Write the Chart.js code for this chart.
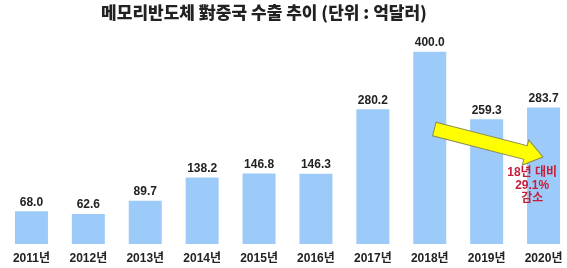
<!DOCTYPE html>
<html>
<head>
<meta charset="utf-8">
<script src="https://cdn.jsdelivr.net/npm/chart.js@4"></script>
<style>
    html, body { margin: 0; padding: 0; background: #fff; overflow: hidden; }
    #wrap { position: relative; width: 575px; height: 268px; }
</style>
</head>
<body>
<div id="wrap"><canvas id="chart1"></canvas></div>
<script>
    // 데이터
    const years = ['2011년', '2012년', '2013년', '2014년', '2015년', '2016년', '2017년', '2018년', '2019년', '2020년'];
    const exports = [68.0, 62.6, 89.7, 138.2, 146.8, 146.3, 280.2, 400.0, 259.3, 283.7];
    const titleText = '메모리반도체 對중국 수출 추이 (단위 : 억달러)';
    const noteLines = ['18년 대비', '29.1%', '감소'];

    const latin = '"Liberation Sans", Arial, "Noto Sans CJK KR", sans-serif';

    // 값 라벨 + 제목 + 화살표
    const extras = {
        id: 'extras',
        afterDatasetsDraw(chart) {
            const ctx = chart.ctx;
            const x = chart.scales.x, y = chart.scales.y;
            ctx.save();

            // 제목
            ctx.fillStyle = '#222';
            ctx.font = '900 17px "Noto Sans CJK KR", sans-serif';
            ctx.textAlign = 'center';
            ctx.textBaseline = 'middle';
            ctx.fillText(titleText, 264, 13);

            // 막대 위 값
            ctx.font = 'bold 12px ' + latin;
            chart.getDatasetMeta(0).data.forEach((bar, i) => {
                ctx.fillText(exports[i].toFixed(1), bar.x, bar.y - 9);
            });

            // 화살표
            const sx = x.getPixelForValue(7.08), sy = y.getPixelForValue(239);
            const tx = x.getPixelForValue(8.99), ty = y.getPixelForValue(181);
            const ang = Math.atan2(ty - sy, tx - sx);
            const len = Math.hypot(tx - sx, ty - sy);
            const sw = 7, hw = 13, hl = 18;
            ctx.translate(sx, sy);
            ctx.rotate(ang);
            ctx.beginPath();
            ctx.moveTo(0, -sw);
            ctx.lineTo(len - hl, -sw);
            ctx.lineTo(len - hl, -hw);
            ctx.lineTo(len, 0);
            ctx.lineTo(len - hl, hw);
            ctx.lineTo(len - hl, sw);
            ctx.lineTo(0, sw);
            ctx.closePath();
            ctx.fillStyle = '#ffff00';
            ctx.fill();
            ctx.strokeStyle = '#8c8c55';
            ctx.lineWidth = 1;
            ctx.stroke();
            ctx.setTransform(1, 0, 0, 1, 0, 0);

            // 감소 문구
            ctx.fillStyle = '#c41e3a';
            ctx.font = 'bold 12px ' + latin;
            const nx = x.getPixelForValue(8.8);
            noteLines.forEach((t, i) => {
                ctx.fillText(t, nx, 173 + i * 12.8);
            });
            ctx.restore();
        }
    };

    new Chart(document.getElementById('chart1'), {
        type: 'bar',
        data: {
            labels: years,
            datasets: [{
                data: exports,
                backgroundColor: '#9dcbf9',
                borderWidth: 0,
                categoryPercentage: 1,
                barPercentage: 0.58
            }]
        },
        options: {
            responsive: true,
            maintainAspectRatio: false,
            animation: false,
            layout: { padding: { top: 30, left: 3, right: 3, bottom: 0 } },
            plugins: {
                legend: { display: false },
                tooltip: { enabled: false }
            },
            scales: {
                x: {
                    grid: { display: false, drawTicks: false },
                    border: { display: false },
                    ticks: {
                        color: '#222',
                        padding: 7,
                        font: { family: latin, size: 12, weight: 'bold' }
                    },
                    afterFit(s) { s.height = 24; }
                },
                y: {
                    display: false,
                    min: 0,
                    max: 445
                }
            }
        },
        plugins: [extras]
    });
</script>
</body>
</html>
